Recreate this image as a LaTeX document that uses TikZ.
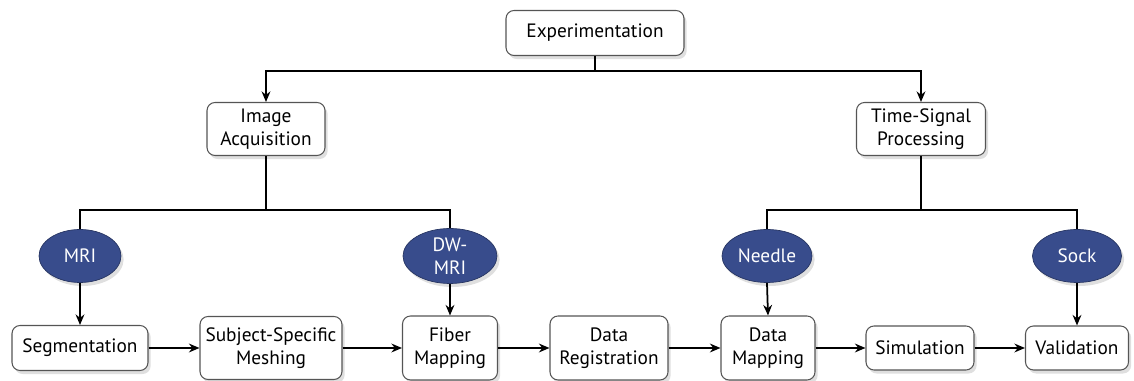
\documentclass[tikz,border=0pt]{standalone}
\usepackage{fontspec}
\setmainfont{PT Sans}
\usepackage{tikz}
\usetikzlibrary{shapes,arrows,positioning,calc,shadows,arrows.meta}

\definecolor{ovalblue}{RGB}{56,76,140}
\definecolor{boxline}{RGB}{85,85,85}

\tikzset{
    stepbox/.style={draw=boxline, line width=0.6pt, fill=white, rounded corners=0.16cm,
        align=center, inner sep=0pt, font=\fontsize{11}{13}\selectfont,
        drop shadow={shadow xshift=1.5pt, shadow yshift=-2pt, opacity=0.25}},
    oval/.style={ellipse, draw=ovalblue!70!black, line width=0.4pt, fill=ovalblue,
        text=white, align=center, inner sep=0pt, font=\fontsize{11}{13}\selectfont,
        drop shadow={shadow xshift=1.5pt, shadow yshift=-2pt, opacity=0.25}},
    arr/.style={-{Stealth[length=6pt,width=5pt]}, line width=1pt},
    wire/.style={line width=1pt}
}

\begin{document}
\begin{tikzpicture}[x=0.02cm, y=-0.02cm]
    \useasboundingbox (0,0) rectangle (1134,381);

    % Top level
    \node[stepbox, minimum width=3.56cm, minimum height=0.9cm] (exp) at (595,33) {Experimentation};

    % Second level
    \node[stepbox, minimum width=2.36cm, minimum height=1.06cm] (img) at (266,129) {Image\\Acquisition};
    \node[stepbox, minimum width=2.58cm, minimum height=1.06cm] (tsp) at (921,129) {Time-Signal\\Processing};

    \draw[arr] (exp.south) -- ++(0,15) -| (img.north);
    \draw[arr] (exp.south) -- ++(0,15) -| (tsp.north);

    % Data sources
    \node[oval, minimum width=1.64cm, minimum height=1.06cm] (mri) at (80,256) {MRI};
    \node[oval, minimum width=1.88cm, minimum height=1.1cm] (dwmri) at (450,256) {DW-\\MRI};
    \node[oval, minimum width=1.8cm, minimum height=1.06cm] (needle) at (767,256) {Needle};
    \node[oval, minimum width=1.78cm, minimum height=1.06cm] (sock) at (1077,256) {Sock};

    \coordinate (imgj) at (266,210);
    \coordinate (tspj) at (921,210);
    \draw[wire] (img.south) -- (imgj);
    \draw[wire] (mri.north) |- (imgj) -| (dwmri.north);
    \draw[wire] (tsp.south) -- (tspj);
    \draw[wire] (needle.north) |- (tspj) -| (sock.north);

    % Pipeline
    \node[stepbox, minimum width=2.72cm, minimum height=0.9cm] (seg) at (80,348) {Segmentation};
    \node[stepbox, minimum width=2.84cm, minimum height=1.26cm] (mesh) at (271,348) {Subject-Specific\\Meshing};
    \node[stepbox, minimum width=1.9cm, minimum height=1.28cm] (fiber) at (450,348) {Fiber\\Mapping};
    \node[stepbox, minimum width=2.36cm, minimum height=1.28cm] (reg) at (609,348) {Data\\Registration};
    \node[stepbox, minimum width=1.88cm, minimum height=1.28cm] (dmap) at (768,348) {Data\\Mapping};
    \node[stepbox, minimum width=2.16cm, minimum height=0.88cm] (sim) at (920,348) {Simulation};
    \node[stepbox, minimum width=2.06cm, minimum height=0.88cm] (val) at (1077,348) {Validation};

    \draw[arr] (mri.south) -- (seg.north);
    \draw[arr] (dwmri.south) -- (fiber.north);
    \draw[arr] (needle.south) -- (dmap.north);
    \draw[arr] (sock.south) -- (val.north);

    \draw[arr] (seg) -- (mesh);
    \draw[arr] (mesh) -- (fiber);
    \draw[arr] (fiber) -- (reg);
    \draw[arr] (reg) -- (dmap);
    \draw[arr] (dmap) -- (sim);
    \draw[arr] (sim) -- (val);
\end{tikzpicture}
\end{document}
